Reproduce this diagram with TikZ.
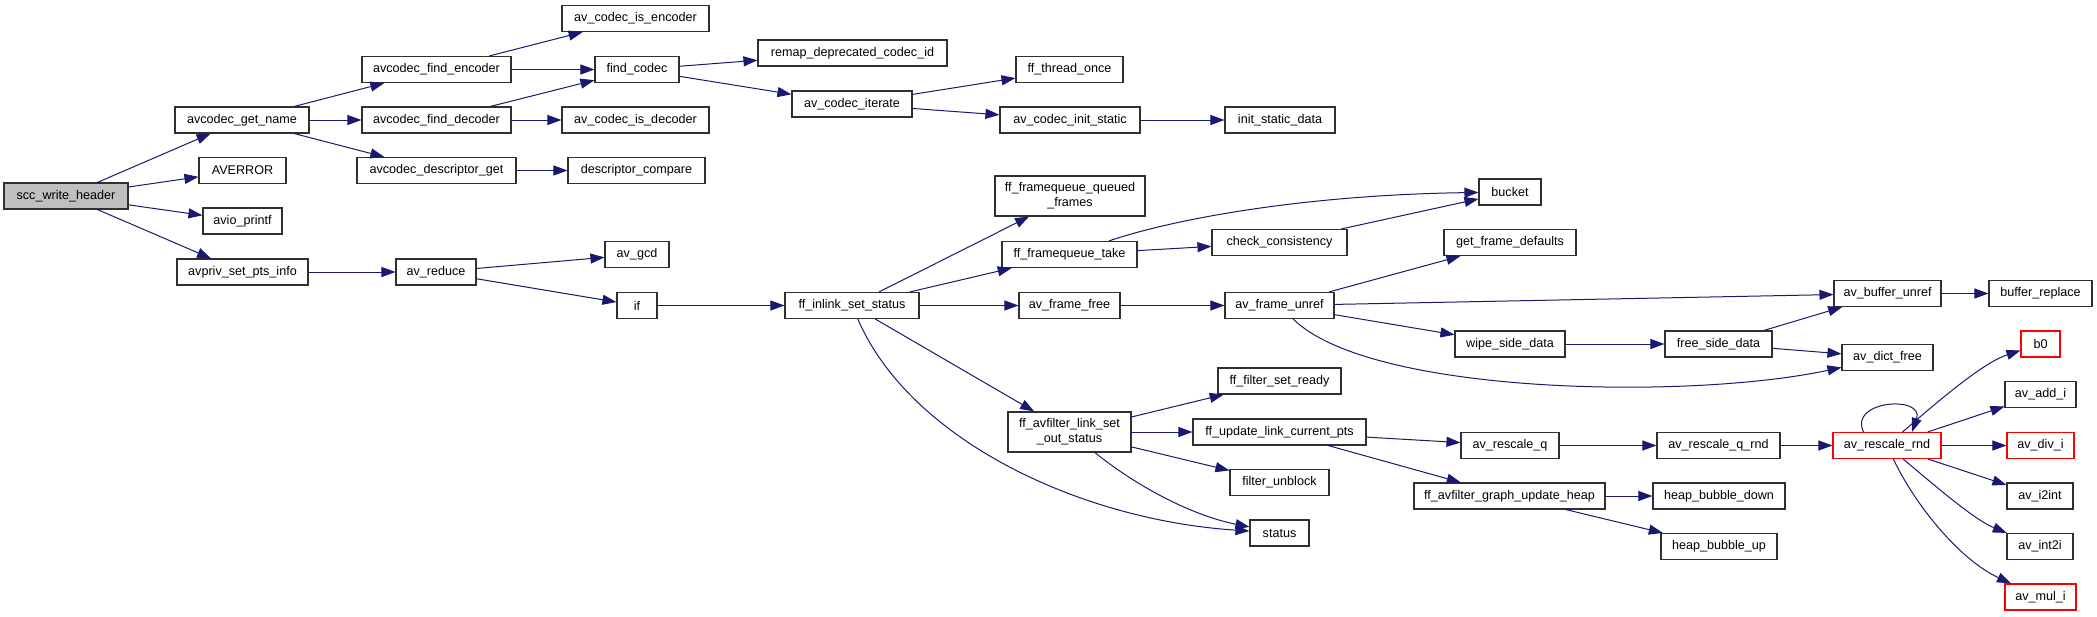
\documentclass[tikz,border=0pt]{standalone}
\usepackage{fontspec}
\setmainfont{Liberation Sans}
\usetikzlibrary{arrows.meta,calc}
\definecolor{edgeblue}{HTML}{191970}
\definecolor{boxline}{HTML}{303030}
\definecolor{rootfill}{HTML}{BFBFBF}
\definecolor{redline}{HTML}{FF0000}
\tikzset{
  nb/.style={draw=boxline, line width=1.1pt, fill=white, rectangle, inner sep=0pt,
    minimum height=26pt, font=\fontsize{12.6}{14.7}\selectfont, align=center},
  rootbox/.style={nb, fill=rootfill},
  redbox/.style={nb, draw=redline},
  tall/.style={minimum height=40pt},
  edge/.style={draw=edgeblue, line width=1pt, -{Triangle[length=14pt,width=10pt]}}
}
\begin{document}
\begin{tikzpicture}[x=1pt,y=-1pt]
\useasboundingbox[fill=white] (0,0) rectangle (2097,616);
% column 0
\node[rootbox, minimum width=124pt] (root) at (66,196) {scc\_write\_header};
% column 1
\node[nb, minimum width=134pt] (getname) at (242,120) {avcodec\_get\_name};
\node[nb, minimum width=87pt] (averror) at (242.5,170.5) {AVERROR};
\node[nb, minimum width=79pt] (avio) at (242.5,221) {avio\_printf};
\node[nb, minimum width=131pt] (avpriv) at (242.5,272) {avpriv\_set\_pts\_info};
% column 2
\node[nb, minimum width=149pt] (findenc) at (436.5,69.5) {avcodec\_find\_encoder};
\node[nb, minimum width=149pt] (finddec) at (436.5,120) {avcodec\_find\_decoder};
\node[nb, minimum width=159pt] (descget) at (436.5,170.5) {avcodec\_descriptor\_get};
\node[nb, minimum width=80pt] (avreduce) at (436,272) {av\_reduce};
% column 3
\node[nb, minimum width=147pt] (isenc) at (635.5,18.5) {av\_codec\_is\_encoder};
\node[nb, minimum width=84pt] (findcodec) at (637,69.5) {find\_codec};
\node[nb, minimum width=147pt] (isdec) at (635.5,120) {av\_codec\_is\_decoder};
\node[nb, minimum width=137pt] (desccmp) at (636.5,170.5) {descriptor\_compare};
\node[nb, minimum width=64pt] (avgcd) at (637,254.5) {av\_gcd};
\node[nb, minimum width=40pt] (if) at (637,305.5) {if};
% column 4
\node[nb, minimum width=189pt] (remap) at (852.5,53) {remap\_deprecated\_codec\_id};
\node[nb, minimum width=120pt] (iterate) at (852,104) {av\_codec\_iterate};
\node[nb, minimum width=134pt] (inlink) at (852,305.5) {ff\_inlink\_set\_status};
% column 5
\node[nb, minimum width=107pt] (threadonce) at (1069.5,69.5) {ff\_thread\_once};
\node[nb, minimum width=140pt] (initstatic) at (1070,120) {av\_codec\_init\_static};
\node[nb, tall, minimum width=150pt] (queued) at (1070,196) {ff\_framequeue\_queued\\\_frames};
\node[nb, minimum width=135pt] (take) at (1069.5,254.5) {ff\_framequeue\_take};
\node[nb, minimum width=101pt] (framefree) at (1069.5,305.5) {av\_frame\_free};
\node[nb, tall, minimum width=123pt] (setout) at (1069.5,432) {ff\_avfilter\_link\_set\\\_out\_status};
% column 6
\node[nb, minimum width=110pt] (initdata) at (1280,120) {init\_static\_data};
\node[nb, minimum width=135pt] (checkc) at (1279.5,242.5) {check\_consistency};
\node[nb, minimum width=109pt] (unref) at (1279.5,305.5) {av\_frame\_unref};
\node[nb, minimum width=123pt] (setready) at (1279.5,381) {ff\_filter\_set\_ready};
\node[nb, minimum width=173pt] (updpts) at (1279.5,432) {ff\_update\_link\_current\_pts};
\node[nb, minimum width=99pt] (unblock) at (1279.5,482.5) {filter\_unblock};
\node[nb, minimum width=59pt] (status) at (1279.5,533) {status};
% column 7
\node[nb, minimum width=62pt] (bucket) at (1510,192) {bucket};
\node[nb, minimum width=132pt] (getdef) at (1510,242.5) {get\_frame\_defaults};
\node[nb, minimum width=110pt] (wipe) at (1510,344) {wipe\_side\_data};
\node[nb, minimum width=98pt] (rescaleq) at (1510,445.5) {av\_rescale\_q};
\node[nb, minimum width=191pt] (heap) at (1509.5,496) {ff\_avfilter\_graph\_update\_heap};
% column 8
\node[nb, minimum width=107pt] (freeside) at (1718.5,344) {free\_side\_data};
\node[nb, minimum width=123pt] (qrnd) at (1718.5,445.5) {av\_rescale\_q\_rnd};
\node[nb, minimum width=132pt] (bdown) at (1719,496) {heap\_bubble\_down};
\node[nb, minimum width=116pt] (bup) at (1719,546.5) {heap\_bubble\_up};
% column 9
\node[nb, minimum width=107pt] (bufunref) at (1887.5,293.5) {av\_buffer\_unref};
\node[nb, minimum width=91pt] (dictfree) at (1887.5,357.5) {av\_dict\_free};
\node[redbox, minimum width=108pt] (rnd) at (1887,445.5) {av\_rescale\_rnd};
% column 10
\node[nb, minimum width=103pt] (bufrep) at (2040.5,293.5) {buffer\_replace};
\node[redbox, minimum width=39pt] (b0) at (2040.5,344) {b0};
\node[nb, minimum width=71pt] (addi) at (2040.5,394.5) {av\_add\_i};
\node[redbox, minimum width=67pt] (divi) at (2040.5,445.5) {av\_div\_i};
\node[nb, minimum width=66pt] (i2int) at (2040,496) {av\_i2int};
\node[nb, minimum width=66pt] (int2i) at (2040,546.5) {av\_int2i};
\node[redbox, minimum width=71pt] (muli) at (2040.5,597) {av\_mul\_i};

% edges
\draw[edge] (root) -- (getname);
\draw[edge] (root) -- (averror);
\draw[edge] (root) -- (avio);
\draw[edge] (root) -- (avpriv);
\draw[edge] (getname) -- (findenc);
\draw[edge] (getname) -- (finddec);
\draw[edge] (getname) -- (descget);
\draw[edge] (findenc) -- (isenc);
\draw[edge] (findenc) -- (findcodec);
\draw[edge] (finddec) -- (findcodec);
\draw[edge] (finddec) -- (isdec);
\draw[edge] (descget) -- (desccmp);
\draw[edge] (findcodec) -- (remap);
\draw[edge] (findcodec) -- (iterate);
\draw[edge] (iterate) -- (threadonce);
\draw[edge] (iterate) -- (initstatic);
\draw[edge] (initstatic) -- (initdata);
\draw[edge] (avpriv) -- (avreduce);
\draw[edge] (avreduce) -- (avgcd);
\draw[edge] (avreduce) -- (if);
\draw[edge] (if) -- (inlink);
\draw[edge] (inlink) -- (queued);
\draw[edge] (inlink) -- (take);
\draw[edge] (inlink) -- (framefree);
\draw[edge] (inlink) -- (setout);
\draw[edge] (inlink) .. controls (910,440) and (1080,520) .. (status);
\draw[edge] (take) .. controls (1170,220) and (1300,195) .. (bucket);
\draw[edge] (take) -- (checkc);
\draw[edge] (checkc) -- (bucket);
\draw[edge] (framefree) -- (unref);
\draw[edge] (unref) -- (getdef);
\draw[edge] (unref) -- (bufunref);
\draw[edge] (unref) -- (wipe);
\draw[edge] (unref) .. controls (1370,395) and (1690,400) .. (dictfree);
\draw[edge] (wipe) -- (freeside);
\draw[edge] (freeside) -- (bufunref);
\draw[edge] (freeside) -- (dictfree);
\draw[edge] (bufunref) -- (bufrep);
\draw[edge] (setout) -- (setready);
\draw[edge] (setout) -- (updpts);
\draw[edge] (setout) -- (unblock);
\draw[edge] (setout) .. controls (1135,485) and (1190,515) .. (status);
\draw[edge] (updpts) -- (rescaleq);
\draw[edge] (updpts) -- (heap);
\draw[edge] (rescaleq) -- (qrnd);
\draw[edge] (qrnd) -- (rnd);
\draw[edge] (heap) -- (bdown);
\draw[edge] (heap) -- (bup);
\draw[edge] ([xshift=-23.5pt]rnd.north) .. controls (1848,400) and (1925,395) .. ([xshift=25pt]rnd.north);
\draw[edge] (rnd) .. controls (1945,395) and (1985,362) .. (b0);
\draw[edge] (rnd) -- (addi);
\draw[edge] (rnd) -- (divi);
\draw[edge] (rnd) -- (i2int);
\draw[edge] (rnd) .. controls (1940,490) and (1975,520) .. (int2i);
\draw[edge] (rnd) .. controls (1915,505) and (1960,560) .. (muli);
\end{tikzpicture}
\end{document}
